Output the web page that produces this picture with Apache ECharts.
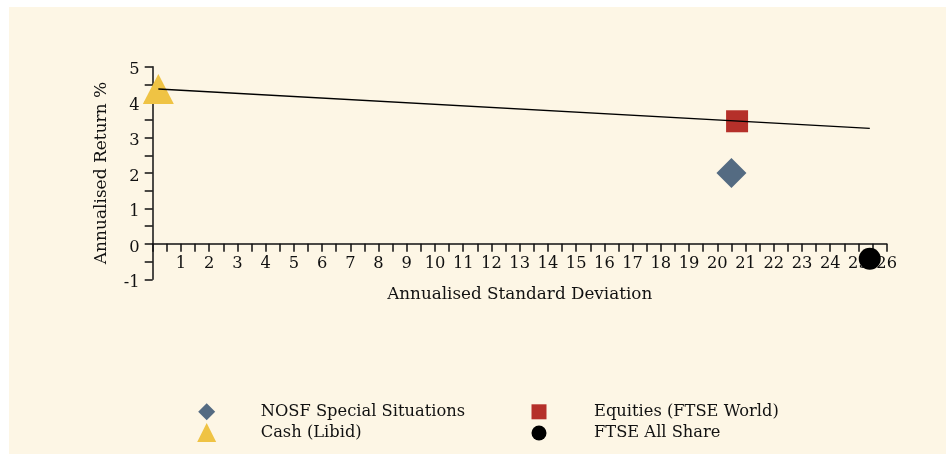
<!DOCTYPE html>
<html>
<head>
<meta charset="utf-8">
<script src="https://cdn.jsdelivr.net/npm/echarts@6/dist/echarts.min.js"></script>
<style>
html,body{margin:0;padding:0;background:#ffffff;}
#c{position:absolute;left:9px;top:7px;width:937px;height:447px;background:#fdf6e5;}
</style>
</head>
<body>
<div id="c"></div>
<script>
// Data
const seriesNames = ['NOSF Special Situations', 'Equities (FTSE World)', 'Cash (Libid)', 'FTSE All Share'];
const nosfPoint = [20.5, 2.0];
const equitiesPoint = [20.7, 3.46];
const cashPoint = [0.2, 4.37];
const ftseAllSharePoint = [25.4, -0.42];
const lineX = [0.2, 25.4];
const lineY = [4.37, 3.26];
const xTicks = { min: 0, max: 26, step: 0.5 };
const yTicks = { min: -1, max: 5, step: 0.5 };

const FONT = 'DejaVu Serif';
const TXT = '#111111';
const AX = '#111111';

const GRID_TOP = 59.7, GRID_H = 212.6;

const chart = echarts.init(document.getElementById('c'), null, { renderer: 'canvas' });

function intLabel(skipZero) {
  return function (v) {
    if (Math.abs(v - Math.round(v)) > 1e-6) return '';
    if (skipZero && Math.round(v) === 0) return '';
    return String(Math.round(v));
  };
}

function legendFor(name, size, cx, cy, textLeft) {
  const left = cx - size / 2;
  return {
    data: [name],
    orient: 'horizontal',
    left: left,
    top: cy - size / 2,
    padding: 0,
    itemWidth: size,
    itemHeight: size,
    selectedMode: false,
    textStyle: {
      fontFamily: FONT,
      fontSize: 16.3,
      color: TXT,
      lineHeight: 12,
      padding: [0, 0, 0, textLeft - (left + size + 5)]
    }
  };
}

// pixel distance from grid bottom (y = min) up to y = 0
const zeroOffset = GRID_H * (0 - yTicks.min) / (yTicks.max - yTicks.min);

const option = {
  animation: false,
  backgroundColor: 'transparent',
  grid: { left: 143.7, top: GRID_TOP, width: 734, height: GRID_H },
  xAxis: {
    type: 'value',
    min: xTicks.min, max: xTicks.max, interval: xTicks.step,
    position: 'bottom',
    offset: -zeroOffset,
    name: 'Annualised Standard Deviation',
    nameLocation: 'middle',
    nameGap: 42,
    nameTextStyle: { fontFamily: FONT, fontSize: 16.8, color: TXT },
    axisLine: { show: true, onZero: false, lineStyle: { color: AX, width: 1.5 } },
    axisTick: { show: true, inside: false, length: 8, lineStyle: { color: AX, width: 1.5 } },
    axisLabel: { formatter: intLabel(true), fontFamily: FONT, fontSize: 16.3, color: TXT, margin: 12, showMinLabel: true, showMaxLabel: true, hideOverlap: false },
    splitLine: { show: false }
  },
  yAxis: {
    type: 'value',
    min: yTicks.min, max: yTicks.max, interval: yTicks.step,
    name: 'Annualised Return %',
    nameLocation: 'middle',
    nameGap: 43,
    nameTextStyle: { fontFamily: FONT, fontSize: 17, color: TXT },
    axisLine: { show: true, onZero: false, lineStyle: { color: AX, width: 1.5 } },
    axisTick: { show: true, inside: false, length: 8, lineStyle: { color: AX, width: 1.5 } },
    axisLabel: { formatter: intLabel(false), fontFamily: FONT, fontSize: 16.3, color: TXT, margin: 13, verticalAlign: 'top', lineHeight: 7, hideOverlap: false },
    splitLine: { show: false }
  },
  legend: [
    legendFor(seriesNames[0], 17, 197.7, 404.7, 251.7),
    legendFor(seriesNames[2], 19, 197.7, 425.5, 251.7),
    legendFor(seriesNames[1], 15, 530, 404.3, 585),
    legendFor(seriesNames[3], 15, 530, 425.5, 585)
  ],
  series: [
    {
      name: seriesNames[0], type: 'scatter', data: [nosfPoint],
      symbol: 'diamond', symbolSize: 30,
      itemStyle: { color: '#546b82', opacity: 1 }, emphasis: { disabled: true }, z: 3
    },
    {
      name: seriesNames[1], type: 'scatter', data: [equitiesPoint],
      symbol: 'rect', symbolSize: 22,
      itemStyle: { color: '#b5302a', opacity: 1 }, emphasis: { disabled: true }, z: 3
    },
    {
      name: seriesNames[2], type: 'scatter', data: [cashPoint],
      symbol: 'triangle', symbolSize: [31, 30],
      itemStyle: { color: '#efc344', opacity: 1 }, emphasis: { disabled: true }, z: 3
    },
    {
      name: seriesNames[3], type: 'scatter', data: [ftseAllSharePoint],
      symbol: 'circle', symbolSize: 22,
      itemStyle: { color: '#000000', opacity: 1 }, emphasis: { disabled: true }, z: 3
    },
    {
      name: 'Market line', type: 'line',
      data: lineX.map((x, i) => [x, lineY[i]]),
      showSymbol: false, symbol: 'none',
      lineStyle: { color: '#000000', width: 1.4 },
      emphasis: { disabled: true }, z: 5, silent: true
    }
  ]
};
chart.setOption(option);
</script>
</body>
</html>
